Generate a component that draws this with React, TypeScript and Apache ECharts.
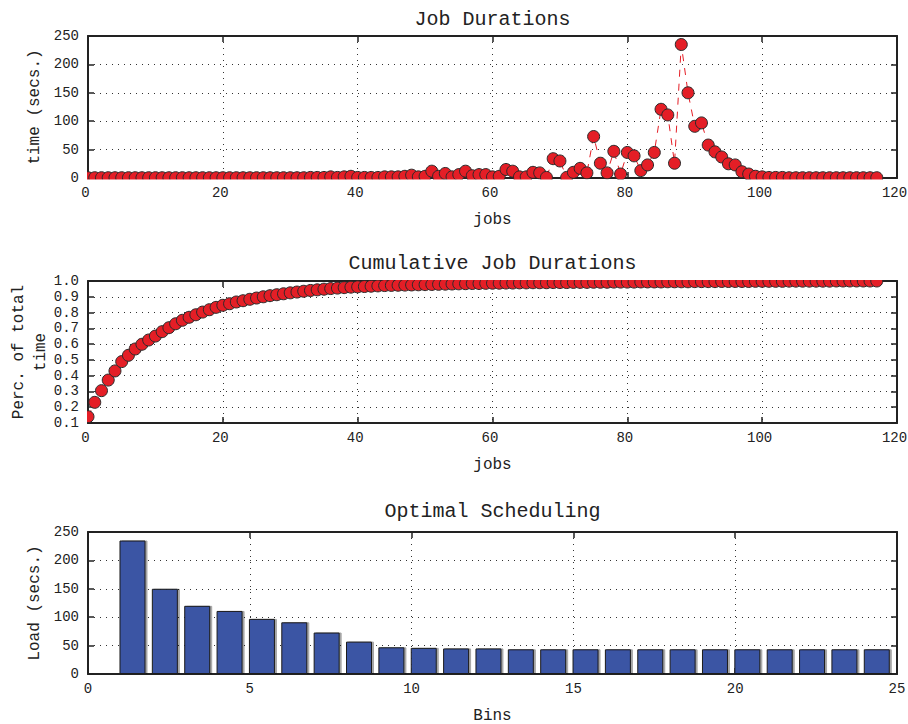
import React, { useEffect, useRef } from 'react';
import * as echarts from 'echarts';

// ---- data ----
const jobDurations = [
  0.5, 0.5, 0.5, 0.5, 0.5, 0.5, 0.5, 0.5, 0.5, 0.5,
  0.5, 0.5, 0.5, 0.5, 0.5, 0.5, 0.5, 0.5, 0.5, 0.5,
  0.5, 0.5, 0.5, 0.5, 0.5, 0.5, 0.5, 0.5, 0.5, 0.5,
  0.5, 0.5, 0.5, 1, 1, 1, 2, 1, 2, 3,
  1, 1, 1, 1, 2, 2, 2, 3, 5, 2,
  3, 12, 3, 8, 2, 6, 12, 4, 6, 6,
  2, 3, 15, 12, 2, 2, 10, 9, 1, 34,
  30, 1, 10, 17, 9, 73, 26, 9, 47, 7,
  45, 39, 13, 23, 45, 121, 111, 26, 235, 150,
  91, 97, 58, 46, 37, 25, 23, 11, 7, 3,
  2, 1, 1, 1, 0.5, 0.5, 0.5, 0.5, 0.5, 0.5,
  0.5, 0.5, 0.5, 0.5, 0.5, 0.5, 0.5, 0.5,
];

const cumulativeFraction = [
  0.14, 0.231, 0.305, 0.372, 0.43, 0.489, 0.529, 0.569, 0.599, 0.626,
  0.651, 0.679, 0.704, 0.729, 0.751, 0.77, 0.786, 0.803, 0.818, 0.833,
  0.846, 0.856, 0.867, 0.875, 0.884, 0.892, 0.9, 0.907, 0.913, 0.919,
  0.925, 0.93, 0.935, 0.94, 0.944, 0.948, 0.952, 0.955, 0.958, 0.961,
  0.963, 0.965, 0.967, 0.969, 0.971, 0.972, 0.973, 0.974, 0.975, 0.976,
  0.977, 0.978, 0.979, 0.98, 0.981, 0.982, 0.983, 0.984, 0.984, 0.985,
  0.986, 0.986, 0.987, 0.987, 0.988, 0.988, 0.989, 0.989, 0.989, 0.99,
  0.99, 0.99, 0.991, 0.991, 0.991, 0.992, 0.992, 0.992, 0.993, 0.993,
  0.993, 0.993, 0.994, 0.994, 0.994, 0.994, 0.995, 0.995, 0.995, 0.995,
  0.996, 0.996, 0.996, 0.996, 0.997, 0.997, 0.997, 0.997, 0.997, 0.998,
  0.998, 0.998, 0.998, 0.998, 0.999, 0.999, 0.999, 0.999, 0.999, 0.999,
  0.999, 1, 1, 1, 1, 1, 1, 1,
];

const bins = [1, 2, 3, 4, 5, 6, 7, 8, 9, 10, 11, 12, 13, 14, 15, 16, 17, 18, 19, 20, 21, 22, 23, 24];
const binLoads = [235, 150, 120, 111, 97, 91, 73, 57, 47, 46, 45, 45, 43.5, 43.5, 43.5, 43.5, 43.5, 43.5, 43.5, 43.5, 43.5, 43.5, 43.5, 43.5];

const titles = ['Job Durations', 'Cumulative Job Durations', 'Optimal Scheduling'];
const xNames = ['jobs', 'jobs', 'Bins'];
const yNames = ['time (secs.)', 'Perc. of total\ntime', 'Load (secs.)'];

// ---- styling ----
const FONT = '"Liberation Mono", "DejaVu Sans Mono", monospace';
const INK = '#222';
const RED = '#e41e26';
const BLUE = '#3a54a4';
const GL = 88;
const GW = 809;
const GH = 142;
const GTOPS = [36, 281, 532];

const gridLine = { color: '#333', width: 1, type: [1, 5] as number[] };

function xBottom(gi: number, max: number, interval: number, name: string, labelPad: number) {
  return {
    type: 'value', gridIndex: gi, position: 'bottom', min: 0, max, interval,
    name, nameLocation: 'middle', nameGap: 34, nameMoveOverlap: false,
    nameTextStyle: { fontFamily: FONT, fontSize: 16, color: INK },
    axisLine: { show: true, onZero: false, lineStyle: { color: INK, width: 2 } },
    axisTick: { show: true, inside: true, length: 6, lineStyle: { color: INK, width: 1.5 } },
    axisLabel: {
      show: true, margin: 8, fontFamily: FONT, fontSize: 14, color: INK, hideOverlap: false,
      padding: [0, labelPad, 0, 0],
    },
    splitLine: { show: true, lineStyle: gridLine },
  };
}
function xTop(gi: number, max: number, interval: number) {
  return {
    type: 'value', gridIndex: gi, position: 'top', min: 0, max, interval,
    axisLine: { show: true, onZero: false, lineStyle: { color: INK, width: 2 } },
    axisTick: { show: true, inside: true, length: 6, lineStyle: { color: INK, width: 1.5 } },
    axisLabel: { show: false },
    splitLine: { show: false },
  };
}
function yLeft(gi: number, min: number, max: number, interval: number, name: string, nameGap: number, fmt?: (v: number) => string) {
  return {
    type: 'value', gridIndex: gi, position: 'left', min, max, interval,
    name, nameLocation: 'middle', nameGap, nameMoveOverlap: false,
    nameTextStyle: { fontFamily: FONT, fontSize: 16, color: INK, lineHeight: 22 },
    axisLine: { show: true, onZero: false, lineStyle: { color: INK, width: 2 } },
    axisTick: { show: true, inside: true, length: 6, lineStyle: { color: INK, width: 1.5 } },
    axisLabel: { show: true, margin: 9, fontFamily: FONT, fontSize: 14, color: INK, formatter: fmt, hideOverlap: false },
    splitLine: { show: true, lineStyle: gridLine },
  };
}
function yRight(gi: number, min: number, max: number, interval: number) {
  return {
    type: 'value', gridIndex: gi, position: 'right', min, max, interval,
    axisLine: { show: true, onZero: false, lineStyle: { color: INK, width: 2 } },
    axisTick: { show: true, inside: true, length: 6, lineStyle: { color: INK, width: 1.5 } },
    axisLabel: { show: false },
    splitLine: { show: false },
  };
}

export default function App() {
  const ref = useRef<HTMLDivElement>(null);
  useEffect(() => {
    if (!ref.current) return;
    const chart = echarts.init(ref.current, undefined, { renderer: 'svg' });

    const pointSeries = (xi: number, yi: number, values: number[]) => ({
      type: 'line',
      xAxisIndex: xi,
      yAxisIndex: yi,
      data: values.map((v, i) => [i, v]),
      symbol: 'circle',
      symbolSize: 12,
      showSymbol: true,
      lineStyle: { color: RED, width: 1, type: [7, 7] },
      itemStyle: { color: RED, borderColor: '#2a2a2a', borderWidth: 1 },
      z: 3,
    });

    const white = { fill: '#fff' };
    const option = {
      animation: false,
      backgroundColor: '#fff',
      grid: GTOPS.map((t) => ({
        left: GL, top: t, width: GW, height: GH, containLabel: false, outerBoundsMode: 'none',
      })),
      xAxis: [
        xBottom(0, 120, 20, xNames[0], 5), xTop(0, 120, 20),
        xBottom(1, 120, 20, xNames[1], 5), xTop(1, 120, 20),
        xBottom(2, 25, 5, xNames[2], 0), xTop(2, 25, 5),
      ],
      yAxis: [
        yLeft(0, 0, 250, 50, yNames[0], 42), yRight(0, 0, 250, 50),
        yLeft(1, 0.1, 1.0, 0.1, yNames[1], 36, (v: number) => v.toFixed(1)), yRight(1, 0.1, 1.0, 0.1),
        yLeft(2, 0, 250, 50, yNames[2], 42), yRight(2, 0, 250, 50),
      ],
      series: [
        pointSeries(0, 0, jobDurations),
        pointSeries(2, 2, cumulativeFraction),
        {
          type: 'bar',
          xAxisIndex: 4,
          yAxisIndex: 4,
          data: bins.map((b, i) => [b + 0.375, binLoads[i]]),
          barWidth: 26,
          itemStyle: {
            color: BLUE, borderColor: '#1c1c1c', borderWidth: 1,
            shadowColor: 'rgba(0,0,0,0.35)', shadowOffsetX: 2, shadowOffsetY: 0, shadowBlur: 1,
          },
        },
      ],
      graphic: [
        // masks that clip the markers at the plot border, as in the reference
        { type: 'rect', z: 50, silent: true, shape: { x: 80, y: 179.5, width: 825, height: 6 }, style: white },
        { type: 'rect', z: 50, silent: true, shape: { x: 80, y: 30, width: 7, height: 155 }, style: white },
        { type: 'rect', z: 50, silent: true, shape: { x: 80, y: 272, width: 825, height: 8 }, style: white },
        { type: 'rect', z: 50, silent: true, shape: { x: 80, y: 272, width: 7, height: 158 }, style: white },
        ...titles.map((t, i) => ({
          type: 'text', z: 60, silent: true,
          x: GL + GW / 2, y: [19, 263, 511][i],
          style: { text: t, fill: INK, font: `20px ${FONT}`, textAlign: 'center', textVerticalAlign: 'middle' },
        })),
      ],
    };
    chart.setOption(option as any);
    return () => chart.dispose();
  }, []);
  return (
    <div
      ref={ref}
      style={{ position: 'fixed', left: 0, top: 0, width: 908, height: 724, background: '#fff' }}
    />
  );
}
